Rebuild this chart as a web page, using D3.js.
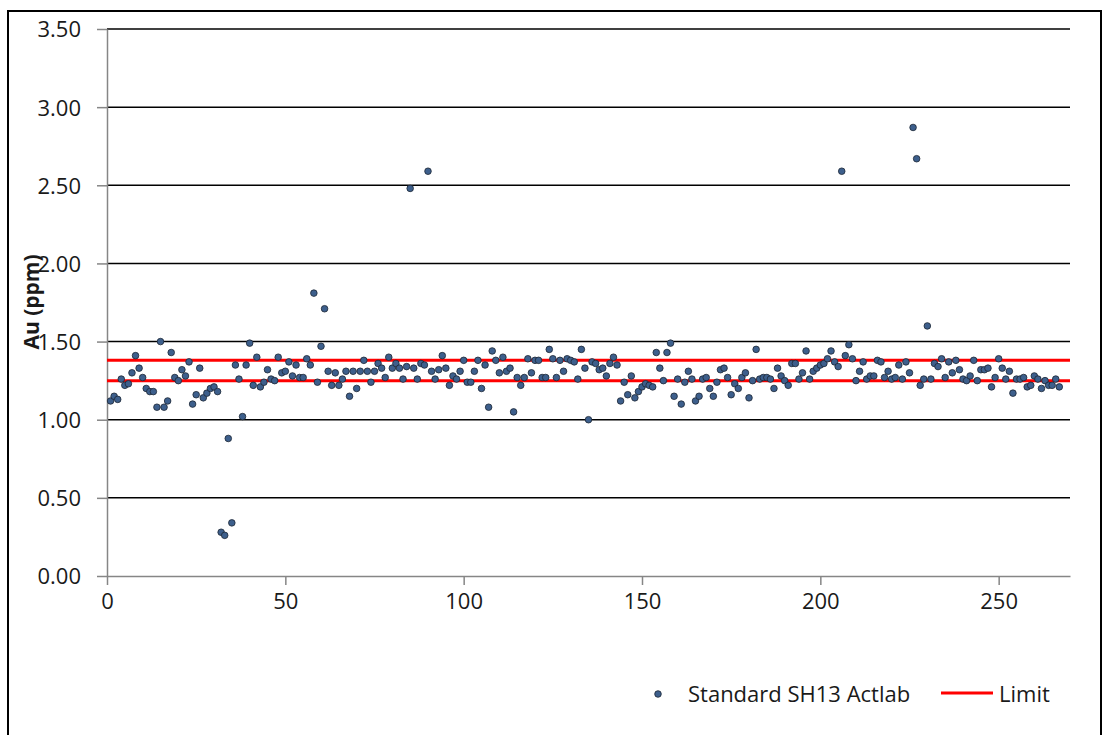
<!DOCTYPE html>
<html>
<head>
<meta charset="utf-8">
<script src="https://cdn.jsdelivr.net/npm/d3@7"></script>
<style>
    body { margin: 0; background: #ffffff; }
    text { font-family: "Open Sans", sans-serif; fill: #1a1a1a; }
</style>
</head>
<body>
<svg id="drawing"></svg>
<script>
// Au standard SH13 (Actlab), one value per sample, in sample order
const au_values = [
    1.12, 1.15, 1.13, 1.26, 1.22, 1.23, 1.30, 1.41, 1.33, 1.27,
    1.20, 1.18, 1.18, 1.08, 1.50, 1.08, 1.12, 1.43, 1.27, 1.25,
    1.32, 1.28, 1.37, 1.10, 1.16, 1.33, 1.14, 1.17, 1.20, 1.21,
    1.18, 0.28, 0.26, 0.88, 0.34, 1.35, 1.26, 1.02, 1.35, 1.49,
    1.22, 1.40, 1.21, 1.24, 1.32, 1.26, 1.25, 1.40, 1.30, 1.31,
    1.37, 1.28, 1.35, 1.27, 1.27, 1.39, 1.35, 1.81, 1.24, 1.47,
    1.71, 1.31, 1.22, 1.30, 1.22, 1.26, 1.31, 1.15, 1.31, 1.20,
    1.31, 1.38, 1.31, 1.24, 1.31, 1.36, 1.33, 1.27, 1.40, 1.33,
    1.36, 1.33, 1.26, 1.34, 2.48, 1.33, 1.26, 1.36, 1.35, 2.59,
    1.31, 1.26, 1.32, 1.41, 1.33, 1.22, 1.28, 1.26, 1.31, 1.38,
    1.24, 1.24, 1.31, 1.38, 1.20, 1.35, 1.08, 1.44, 1.38, 1.30,
    1.40, 1.31, 1.33, 1.05, 1.27, 1.22, 1.27, 1.39, 1.30, 1.38,
    1.38, 1.27, 1.27, 1.45, 1.39, 1.27, 1.38, 1.31, 1.39, 1.38,
    1.37, 1.26, 1.45, 1.33, 1.00, 1.37, 1.36, 1.32, 1.33, 1.28,
    1.36, 1.40, 1.35, 1.12, 1.24, 1.16, 1.28, 1.14, 1.18, 1.21,
    1.23, 1.22, 1.21, 1.43, 1.33, 1.25, 1.43, 1.49, 1.15, 1.26,
    1.10, 1.24, 1.31, 1.26, 1.12, 1.15, 1.26, 1.27, 1.20, 1.15,
    1.24, 1.32, 1.33, 1.27, 1.16, 1.23, 1.20, 1.27, 1.30, 1.14,
    1.25, 1.45, 1.26, 1.27, 1.27, 1.26, 1.20, 1.33, 1.28, 1.25,
    1.22, 1.36, 1.36, 1.26, 1.30, 1.44, 1.26, 1.31, 1.33, 1.35,
    1.36, 1.39, 1.44, 1.37, 1.34, 2.59, 1.41, 1.48, 1.39, 1.25,
    1.31, 1.37, 1.26, 1.28, 1.28, 1.38, 1.37, 1.27, 1.31, 1.26,
    1.27, 1.35, 1.26, 1.37, 1.30, 2.87, 2.67, 1.22, 1.26, 1.60,
    1.26, 1.36, 1.34, 1.39, 1.27, 1.37, 1.30, 1.38, 1.32, 1.26,
    1.25, 1.28, 1.38, 1.25, 1.32, 1.32, 1.33, 1.21, 1.27, 1.39,
    1.33, 1.26, 1.31, 1.17, 1.26, 1.26, 1.27, 1.21, 1.22, 1.28,
    1.26, 1.20, 1.25, 1.22, 1.22, 1.26, 1.21
];
const limit_values = [ 1.25, 1.38 ];
const x_ticks = [ 0, 50, 100, 150, 200, 250 ];
const y_ticks = [ 0, 0.5, 1.0, 1.5, 2.0, 2.5, 3.0, 3.5 ];
const series_name = 'Standard SH13 Actlab';
const limit_name = 'Limit';
const y_title = 'Au (ppm)';

class ScatterChart {
    constructor( config, data ) {
        this.config = {
            parent: config.parent,
            width: config.width || 256,
            height: config.height || 256,
            margin: config.margin || { top:10, right:10, bottom:10, left:10 },
            ylabel: config.ylabel || ''
        };
        this.data = data.map( ( v, i ) => ({ sample: i + 1, au: v }) );
        this.init();
    }

    init() {
        let self = this;

        self.svg = d3.select( self.config.parent )
            .attr( 'width', self.config.width )
            .attr( 'height', self.config.height );

        // outer frame of the chart area
        self.svg.append( 'rect' )
            .attr( 'x', 8 )
            .attr( 'y', 11 )
            .attr( 'width', 1093 )
            .attr( 'height', 740 )
            .attr( 'fill', 'none' )
            .attr( 'stroke', '#000' )
            .attr( 'stroke-width', 2 );

        self.chart = self.svg.append( 'g' )
            .attr( 'transform', `translate(${self.config.margin.left}, ${self.config.margin.top})` );

        self.inner_width = self.config.width - self.config.margin.left - self.config.margin.right;
        self.inner_height = self.config.height - self.config.margin.top - self.config.margin.bottom;

        self.xscale = d3.scaleLinear()
            .domain( [ 0, 270 ] )
            .range( [ 0, self.inner_width ] );

        self.yscale = d3.scaleLinear()
            .domain( [ 0, 3.5 ] )
            .range( [ self.inner_height, 0 ] );

        self.xaxis = d3.axisBottom( self.xscale )
            .tickValues( x_ticks )
            .tickSize( 9 )
            .tickSizeOuter( 0 )
            .tickPadding( 8 );

        self.yaxis = d3.axisLeft( self.yscale )
            .tickValues( y_ticks )
            .tickFormat( d3.format( '.2f' ) )
            .tickSize( 10 )
            .tickSizeOuter( 0 )
            .tickPadding( 16 );

        self.grid_group = self.chart.append( 'g' );
        self.xaxis_group = self.chart.append( 'g' )
            .attr( 'transform', `translate(0, ${self.inner_height})` );
        self.yaxis_group = self.chart.append( 'g' );
        self.limit_group = self.chart.append( 'g' );
        self.dot_group = self.chart.append( 'g' );

        self.svg.append( 'text' )
            .style( 'font-size', '21px' )
            .style( 'font-weight', 'bold' )
            .attr( 'transform', `translate(39, 302) rotate(-90)` )
            .attr( 'text-anchor', 'middle' )
            .text( self.config.ylabel );

        // legend
        const legend = self.svg.append( 'g' );
        legend.append( 'circle' )
            .attr( 'cx', 658 )
            .attr( 'cy', 694 )
            .attr( 'r', 3.3 )
            .attr( 'fill', '#3d5f8c' )
            .attr( 'stroke', '#1c2633' )
            .attr( 'stroke-width', 0.8 );
        legend.append( 'text' )
            .style( 'font-size', '22px' )
            .attr( 'x', 688 )
            .attr( 'y', 702 )
            .text( series_name );
        legend.append( 'line' )
            .attr( 'x1', 941 )
            .attr( 'x2', 993 )
            .attr( 'y1', 693 )
            .attr( 'y2', 693 )
            .attr( 'stroke', '#ff0000' )
            .attr( 'stroke-width', 3 );
        legend.append( 'text' )
            .style( 'font-size', '22px' )
            .attr( 'x', 999 )
            .attr( 'y', 702 )
            .text( limit_name );
    }

    update() {
        this.render();
    }

    render() {
        let self = this;

        self.grid_group.selectAll( 'line' )
            .data( y_ticks.filter( d => d > 0 ) )
            .join( 'line' )
            .attr( 'x1', 0 )
            .attr( 'x2', self.inner_width )
            .attr( 'y1', d => self.yscale( d ) )
            .attr( 'y2', d => self.yscale( d ) )
            .attr( 'stroke', '#000' )
            .attr( 'stroke-width', 1.5 );

        self.xaxis_group
            .call( self.xaxis )
            .call( g => g.selectAll( '.domain, .tick line' )
                .attr( 'stroke', '#868686' ).attr( 'stroke-width', 1.5 ) )
            .call( g => g.selectAll( 'text' )
                .style( 'font-size', '22px' ).attr( 'fill', '#1a1a1a' ) );

        self.yaxis_group
            .call( self.yaxis )
            .call( g => g.selectAll( '.domain, .tick line' )
                .attr( 'stroke', '#868686' ).attr( 'stroke-width', 1.5 ) )
            .call( g => g.selectAll( 'text' )
                .style( 'font-size', '22px' ).attr( 'fill', '#1a1a1a' ).attr( 'dy', '0.36em' ) );

        self.limit_group.selectAll( 'line' )
            .data( limit_values )
            .join( 'line' )
            .attr( 'x1', 0 )
            .attr( 'x2', self.inner_width )
            .attr( 'y1', d => self.yscale( d ) )
            .attr( 'y2', d => self.yscale( d ) )
            .attr( 'stroke', '#ff0000' )
            .attr( 'stroke-width', 3 );

        self.dot_group.selectAll( 'circle' )
            .data( self.data )
            .join( 'circle' )
            .attr( 'cx', d => self.xscale( d.sample ) )
            .attr( 'cy', d => self.yscale( d.au ) )
            .attr( 'r', 3.3 )
            .attr( 'fill', '#3d5f8c' )
            .attr( 'stroke', '#1c2633' )
            .attr( 'stroke-width', 0.8 );
    }
}

const chart = new ScatterChart( {
    parent: '#drawing',
    width: 1108,
    height: 735,
    margin: { top:29, right:38, bottom:159, left:107 },
    ylabel: y_title
}, au_values );
chart.update();
</script>
</body>
</html>
